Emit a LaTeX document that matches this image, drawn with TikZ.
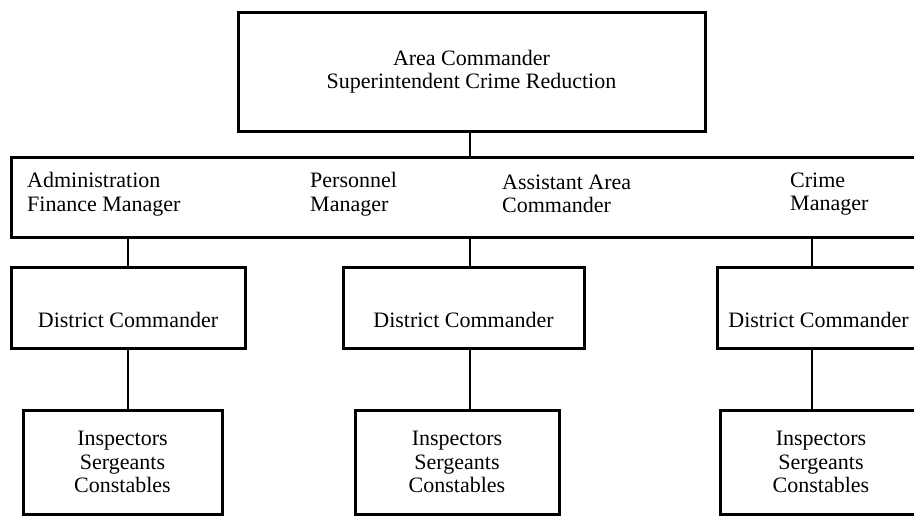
\documentclass[tikz,border=0pt]{standalone}
\usepackage{fontspec}
\setmainfont{Liberation Serif}

\begin{document}
\begin{tikzpicture}[x=1pt,y=-1pt,
every node/.style={font=\fontsize{22}{23.5}\selectfont},
box/.style={draw,line width=3pt,inner sep=0pt,align=center},
dist/.style={box,minimum height=81pt,text height=40pt,text depth=0pt},
rank/.style={box,minimum height=104pt},
post/.style={inner sep=0pt,anchor=west,align=left},
link/.style={line width=2pt}]
\useasboundingbox (0,0) rectangle (914,517);
\node[box,minimum width=467pt,minimum height=119pt] (area) at (471.5,71.5)
  {Area Commander\\Superintendent Crime Reduction};
% staff row
\node[box,minimum width=919pt,minimum height=80pt] (staff) at (470.5,197.5) {};
\node[post] (admin) at (27,194) {Administration\\Finance Manager};
\node[post] (pers) at (310,194) {Personnel\\Manager};
\node[post] (asst) at (502,194) {Assistant Area\\Commander};
\node[post] (crime) at (790,194) {Crime\\Manager};
% districts
\node[dist,minimum width=234pt] (dc1) at (128,307.5) {District Commander};
\node[dist,minimum width=241pt] (dc2) at (463.5,307.5) {District Commander};
\node[dist,minimum width=203pt] (dc3) at (818.5,307.5) {District Commander};
% ranks
\node[rank,minimum width=199pt] (rk1) at (122.5,462) {Inspectors\\Sergeants\\Constables};
\node[rank,minimum width=204pt] (rk2) at (457,462) {Inspectors\\Sergeants\\Constables};
\node[rank,minimum width=202pt] (rk3) at (821,462) {Inspectors\\Sergeants\\Constables};
\coordinate (x1) at (128,0);
\coordinate (x2) at (470,0);
\coordinate (x3) at (812,0);
\draw[link] (area.south -| x2) -- (staff.north -| x2);
\draw[link] (staff.south -| x1) -- (dc1.north -| x1);
\draw[link] (staff.south -| x2) -- (dc2.north -| x2);
\draw[link] (staff.south -| x3) -- (dc3.north -| x3);
\draw[link] (dc1.south -| x1) -- (rk1.north -| x1);
\draw[link] (dc2.south -| x2) -- (rk2.north -| x2);
\draw[link] (dc3.south -| x3) -- (rk3.north -| x3);
\end{tikzpicture}
\end{document}
